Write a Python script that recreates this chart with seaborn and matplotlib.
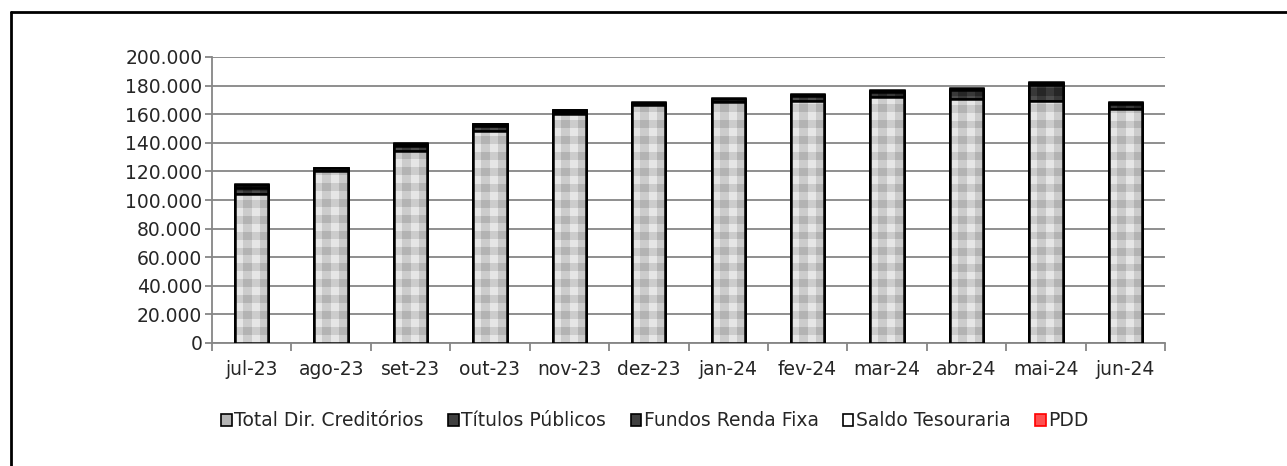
import numpy as np
import pandas as pd
import matplotlib.pyplot as plt
import seaborn as sns
from matplotlib.patches import Patch, Rectangle
from matplotlib.lines import Line2D
from matplotlib.ticker import FuncFormatter, FixedLocator

# dados
meses = ["jul-23", "ago-23", "set-23", "out-23", "nov-23", "dez-23",
         "jan-24", "fev-24", "mar-24", "abr-24", "mai-24", "jun-24"]
total_dir_creditorios = [104000, 120300, 134300, 148500, 159800, 166200,
                         168800, 169500, 172300, 170600, 169500, 163600]
titulos_publicos = [4500, 0, 3500, 3000, 1500, 0, 0, 3000, 3000, 6000, 11000, 3500]
fundos_renda_fixa = [2000, 1800, 1300, 1500, 1300, 1700, 1900, 1200, 1200, 1300, 1400, 1000]
saldo_tesouraria = [500, 500, 500, 400, 400, 400, 400, 400, 400, 400, 400, 400]
pdd = [0, 0, 0, 0, 0, 0, 0, 0, 0, 0, 0, 0]
series = ["Total Dir. Creditórios", "Títulos Públicos", "Fundos Renda Fixa",
          "Saldo Tesouraria", "PDD"]

sns.set_style("white")
plt.rcParams["font.family"] = ["DejaVu Sans"]
FS = 13.5

df = pd.DataFrame({
    "mes": meses,
    "c1": np.array(total_dir_creditorios),
})
df["c2"] = df["c1"] + np.array(titulos_publicos)
df["c3"] = df["c2"] + np.array(fundos_renda_fixa)
df["c4"] = df["c3"] + np.array(saldo_tesouraria)

fig = plt.figure(figsize=(12.87, 4.66), dpi=100)
ax = fig.add_axes([212 / 1287, 1 - 343 / 466, (1165 - 212) / 1287, (343 - 57) / 466])

grid_c = "#868686"
W = 0.42


def gingham(rows, cols, vals):
    a = np.full((rows, cols), vals[1])
    for i in range(rows):
        for j in range(cols):
            if i % 2 == 0 and j % 2 == 0:
                a[i, j] = vals[0]
            elif i % 2 == 1 and j % 2 == 1:
                a[i, j] = vals[2]
    return a


light = gingham(36, 4, [0.90, 0.80, 0.70])
dark = gingham(36, 4, [0.30, 0.22, 0.15])

# desenho em camadas (acumulado, de cima para baixo)
camadas = [("c4", "white", None, 2), ("c3", "#404040", dark, 3),
           ("c2", "#404040", dark, 4), ("c1", "#c8c8c8", light, 5)]
for col, cor, padrao, z in camadas:
    sns.barplot(data=df, x="mes", y=col, color=cor, saturation=1, width=W,
                edgecolor="black", linewidth=1.8, zorder=z, ax=ax)
    barras = ax.containers[-1]
    if padrao is not None:
        for p in barras.patches:
            x0 = p.get_x()
            im = ax.imshow(padrao, cmap="gray", vmin=0, vmax=1, aspect="auto",
                           extent=(x0, x0 + p.get_width(), 0, 200000),
                           interpolation="nearest", origin="lower", zorder=z + 0.5)
            im.set_clip_path(p)
            ax.add_patch(Rectangle((x0, 0), p.get_width(), p.get_height(), fill=False,
                                   edgecolor="black", linewidth=1.8, zorder=z + 0.6))

ax.set_xlim(-0.5, 11.5)
ax.set_ylim(0, 200000)
ax.set_yticks(np.arange(0, 200001, 20000))
ax.yaxis.set_major_formatter(FuncFormatter(lambda v, _: f"{v:,.0f}".replace(",", ".")))
ax.set_xlabel("")
ax.set_ylabel("")
ax.set_axisbelow(True)
ax.grid(axis="y", color=grid_c, linewidth=1.3, zorder=0)
ax.grid(axis="x", visible=False)
for s in ["top", "right"]:
    ax.spines[s].set_visible(False)
for s in ["left", "bottom"]:
    ax.spines[s].set_color(grid_c)
    ax.spines[s].set_linewidth(1.3)
ax.tick_params(axis="y", which="major", left=True, length=5, width=1.3, color=grid_c,
               labelsize=FS, pad=2)
ax.tick_params(axis="x", which="major", length=0, labelsize=FS, pad=12)
ax.xaxis.set_minor_locator(FixedLocator(np.arange(-0.5, 12, 1)))
ax.tick_params(axis="x", which="minor", bottom=True, length=6, width=1.3, color=grid_c)

handles = [
    Patch(facecolor="#b4b4b4", edgecolor="black", linewidth=1.2),
    Patch(facecolor="#404040", edgecolor="black", linewidth=1.2),
    Patch(facecolor="#404040", edgecolor="black", linewidth=1.2),
    Patch(facecolor="white", edgecolor="black", linewidth=1.2),
    Patch(facecolor="#ff5050", edgecolor="#ff0000", linewidth=1.2),
]
fig.legend(handles, series, loc="center", bbox_to_anchor=(655 / 1287, 1 - 421 / 466),
           ncol=5, frameon=False, fontsize=FS, handlelength=0.55, handleheight=0.55,
           handletextpad=0.15, columnspacing=1.3, borderaxespad=0)

# moldura (apenas topo e esquerda)
fig.add_artist(Line2D([11 / 1287, 1], [1 - 12 / 466, 1 - 12 / 466], color="black",
                      linewidth=2, transform=fig.transFigure))
fig.add_artist(Line2D([11 / 1287, 11 / 1287], [0, 1 - 12 / 466], color="black",
                      linewidth=2, transform=fig.transFigure))

fig.savefig("out.png", dpi=100)
